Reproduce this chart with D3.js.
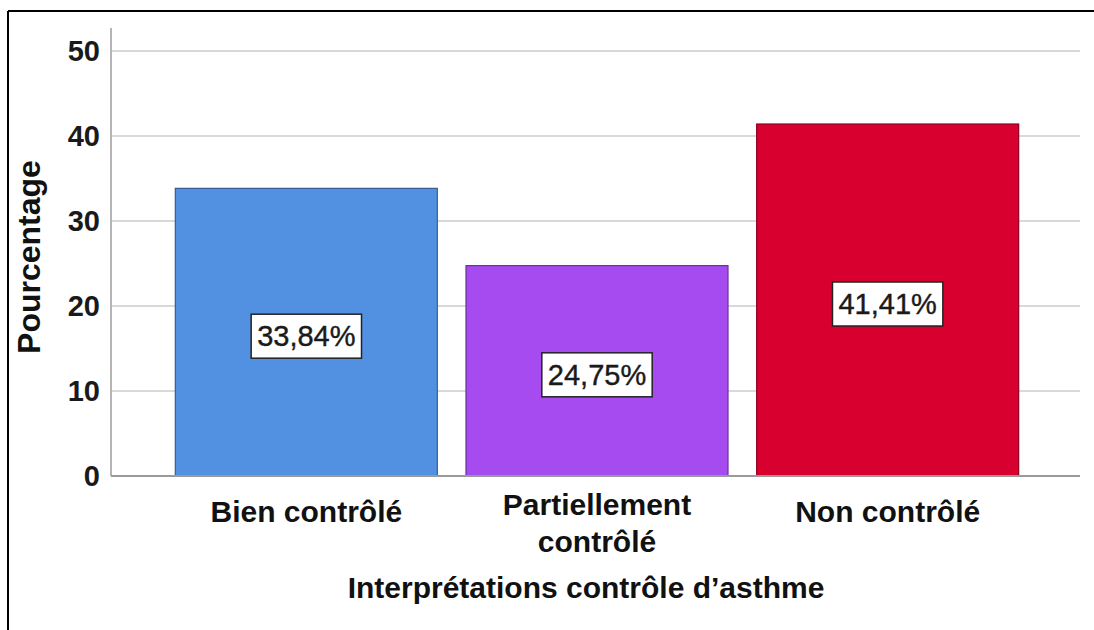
<!DOCTYPE html>
<html>
<head>
<meta charset="utf-8">
<script src="https://cdn.jsdelivr.net/npm/d3@7"></script>
<style>
  html, body { margin: 0; padding: 0; background: #fff; }
  svg { display: block; font-family: "Liberation Sans", Arial, sans-serif; }
</style>
</head>
<body>
<svg id="chart" width="1094" height="630"></svg>
<script>
// Asthma control categories and their share of patients (%)
const categories = ["Bien contrôlé", "Partiellement contrôlé", "Non contrôlé"];
const categoryLines = [["Bien contrôlé"], ["Partiellement", "contrôlé"], ["Non contrôlé"]];
const percentages = [33.84, 24.75, 41.41];
const barColors = ["#5291e2", "#a64bf0", "#d7002f"];
const yTicks = [0, 10, 20, 30, 40, 50];
const yTitle = "Pourcentage";
const xTitle = "Interprétations contrôle d’asthme";

const svg = d3.select("#chart");

// frame around the chart (top and left edges)
svg.append("line").attr("x1", 8).attr("x2", 1094).attr("y1", 11).attr("y2", 11)
  .attr("stroke", "#000").attr("stroke-width", 2);
svg.append("line").attr("x1", 8).attr("x2", 8).attr("y1", 11).attr("y2", 630)
  .attr("stroke", "#000").attr("stroke-width", 2);

const plotLeft = 111, plotRight = 1080;
const y = d3.scaleLinear().domain([0, 50]).range([476, 51]);
const x = d3.scaleBand().domain(categories).range([161, 1033]).paddingInner(0.0986).paddingOuter(0.0493);

// horizontal gridlines
svg.append("g").selectAll("line").data(yTicks.filter(d => d > 0)).join("line")
  .attr("x1", plotLeft).attr("x2", plotRight)
  .attr("y1", d => y(d)).attr("y2", d => y(d))
  .attr("stroke", "#d9d9d9").attr("stroke-width", 2);

// y axis line
svg.append("line").attr("x1", plotLeft).attr("x2", plotLeft).attr("y1", 28).attr("y2", y(0))
  .attr("stroke", "#b4b4b4").attr("stroke-width", 2);

// y tick labels
svg.append("g").selectAll("text").data(yTicks).join("text")
  .attr("x", 100).attr("y", d => y(d) + 10)
  .attr("text-anchor", "end")
  .attr("font-size", 29).attr("font-weight", "bold").attr("fill", "#1a1a1a")
  .text(d => d);

// bars
svg.append("g").selectAll("rect").data(categories).join("rect")
  .attr("x", d => x(d)).attr("width", x.bandwidth())
  .attr("y", (d, i) => y(percentages[i]))
  .attr("height", (d, i) => y(0) - y(percentages[i]))
  .attr("fill", (d, i) => barColors[i])
  .attr("stroke", (d, i) => d3.color(barColors[i]).darker(1.2))
  .attr("stroke-width", 1.2);

// x axis line
svg.append("line").attr("x1", plotLeft).attr("x2", plotRight).attr("y1", y(0)).attr("y2", y(0))
  .attr("stroke", "#9a9a9a").attr("stroke-width", 2);

// value labels in boxes, centred on each bar
const labels = svg.append("g").selectAll("g").data(categories).join("g")
  .attr("transform", (d, i) => `translate(${x(d) + x.bandwidth() / 2},${(y(0) + y(percentages[i])) / 2 + 4})`);
labels.each(function (d, i) {
  const g = d3.select(this);
  const t = g.append("text")
    .attr("text-anchor", "middle").attr("y", 10)
    .attr("font-size", 29).attr("fill", "#1a1a1a")
    .attr("stroke", "#1a1a1a").attr("stroke-width", 0.4)
    .text(percentages[i].toFixed(2).replace(".", ",") + "%");
  const w = t.node().getComputedTextLength();
  g.insert("rect", "text")
    .attr("x", -w / 2 - 6).attr("width", w + 12)
    .attr("y", -22).attr("height", 44)
    .attr("fill", "#fff").attr("stroke", "#222").attr("stroke-width", 1.5);
});

// category labels
svg.append("g").selectAll("text").data(categories).join("text")
  .attr("x", d => x(d) + x.bandwidth() / 2)
  .attr("y", (d, i) => categoryLines[i].length > 1 ? 515 : 522)
  .attr("text-anchor", "middle")
  .attr("font-size", 30).attr("font-weight", "bold").attr("fill", "#111")
  .each(function (d, i) {
    d3.select(this).selectAll("tspan").data(categoryLines[i]).join("tspan")
      .attr("x", x(d) + x.bandwidth() / 2)
      .attr("dy", (l, j) => j === 0 ? 0 : 37)
      .text(l => l);
  });

// axis titles
svg.append("text")
  .attr("x", 586).attr("y", 598)
  .attr("text-anchor", "middle")
  .attr("font-size", 30).attr("font-weight", "bold").attr("fill", "#111")
  .text(xTitle);

svg.append("text")
  .attr("transform", "translate(40,257) rotate(-90)")
  .attr("text-anchor", "middle")
  .attr("font-size", 32).attr("font-weight", "bold").attr("fill", "#111")
  .text(yTitle);
</script>
</body>
</html>
